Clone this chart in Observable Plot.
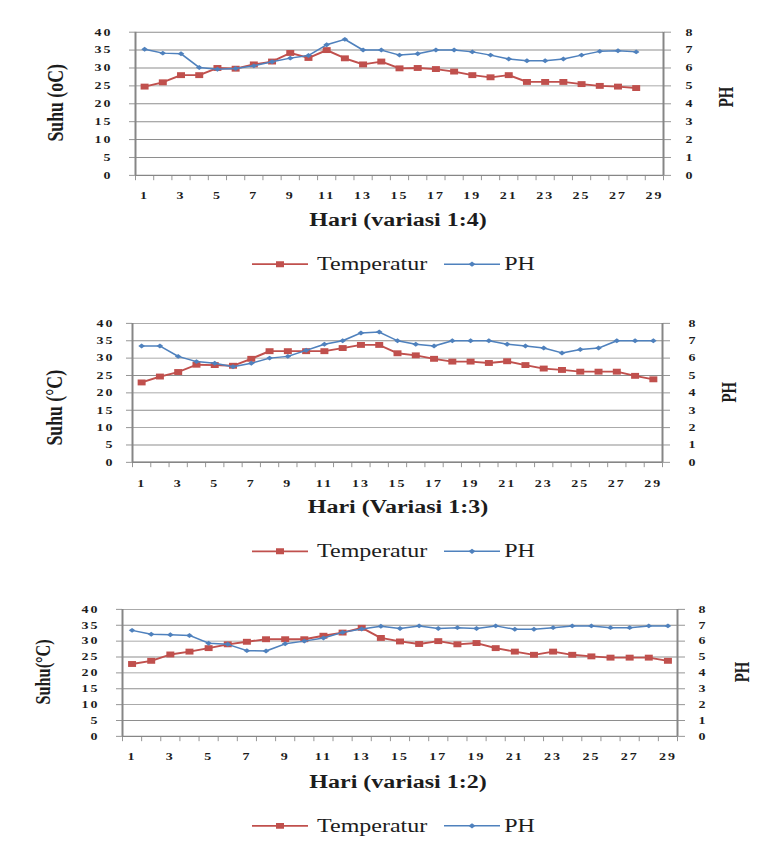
<!DOCTYPE html>
<html>
<head>
<meta charset="utf-8">
<script src="https://cdn.jsdelivr.net/npm/d3@7"></script>
<script src="https://cdn.jsdelivr.net/npm/@observablehq/plot@0.6"></script>
<style>
  html, body { margin: 0; padding: 0; background: #fff; }
  #frame { position: relative; width: 773px; height: 851px; overflow: hidden; }
  #stage { position: absolute; left: 0; top: 0; width: 773px; transform-origin: 0 0; }
  #stage svg.chart text { fill: #1c1c1c; }
  .lbl { position: absolute; font-family: "Liberation Serif", "Times New Roman", serif; color: #1c1c1c; white-space: nowrap; line-height: 1; }
  .title { font-weight: bold; font-size: 24px; transform: translate(-50%, -50%); }
  .ytitle { font-weight: bold; transform: translate(-50%, -50%) rotate(-90deg); }
  .legend { display: flex; align-items: center; font-size: 24px; transform: translateY(-50%); }
  .legend svg { display: block; }
</style>
</head>
<body>
<div id="frame"><div id="stage"></div></div>
<script>
// Daily temperature (°C) and pH of the three dilution variants.
const days = d3.range(1, 30);
const dayTicks = d3.range(1, 30, 2);
const tempTicks = d3.range(0, 41, 5);

const temp14 = [24.8, 26, 28, 28, 30, 29.8, 31, 31.8, 34.2, 32.8, 35, 32.7, 31, 31.8,
                29.9, 30, 29.7, 29, 28, 27.4, 28, 26.1, 26.1, 26.1, 25.5, 25, 24.8, 24.4];
const ph14   = [7.05, 6.83, 6.8, 6.03, 5.93, 5.97, 6.12, 6.35, 6.55, 6.7, 7.3, 7.6, 7.0, 7.0,
                6.72, 6.8, 7.0, 7.0, 6.9, 6.72, 6.5, 6.4, 6.4, 6.5, 6.72, 6.93, 6.96, 6.9];

const temp13 = [23, 24.7, 26, 28.1, 28, 27.8, 29.8, 32, 32, 32, 32, 32.9, 33.8, 33.8,
                31.4, 30.8, 29.8, 29, 29, 28.6, 29.1, 28, 27, 26.6, 26.1, 26.1, 26.1, 24.9, 23.9];
const ph13   = [6.7, 6.7, 6.1, 5.8, 5.7, 5.5, 5.7, 6.0, 6.1, 6.45, 6.8, 7.0, 7.45, 7.5,
                7.0, 6.8, 6.7, 7.0, 7.0, 7.0, 6.8, 6.7, 6.58, 6.3, 6.5, 6.58, 7.0, 7.0, 7.0];

const temp12 = [22.8, 23.8, 25.8, 26.7, 27.8, 29, 29.8, 30.6, 30.6, 30.6, 31.7, 32.7, 34.2, 31,
                29.9, 29.1, 30, 29, 29.4, 27.8, 26.7, 25.7, 26.7, 25.7, 25.2, 24.8, 24.8, 24.8, 23.8];
const ph12   = [6.68, 6.43, 6.4, 6.36, 5.87, 5.8, 5.4, 5.38, 5.83, 6.0, 6.2, 6.55, 6.77, 6.94,
                6.8, 6.96, 6.8, 6.85, 6.8, 6.96, 6.75, 6.75, 6.85, 6.96, 6.96, 6.85, 6.85, 6.96, 6.96];

const seriesNames = ["Temperatur", "PH"];
const xTitles = ["Hari (variasi 1:4)", "Hari (Variasi 1:3)", "Hari (variasi 1:2)"];
const yTitles = ["Suhu (oC)", "Suhu (°C)", "Suhu(°C)"];
const yTitleRight = "PH";

// pH (0–8) shares the temperature scale (0–40): one pH unit = 5 °C.
const PH_FACTOR = 5;

const RED = "#C0504D";
const BLUE = "#4F81BD";
const AXIS = "#868686";
const GRID = "#8e8e8e";

// The whole page is drawn flattened vertically.
const SQUISH = 0.74;
const stage = document.getElementById("stage");
stage.style.height = (851 / SQUISH) + "px";
stage.style.transform = `scaleY(${SQUISH})`;

const panels = [
  {temp: temp14, ph: ph14, top: 0, height: 280, mt: 43, mb: 43.5, ml: 135, mr: 110,
   padL: 17, padR: 15, padX: 22, xTitle: xTitles[0], titleY: 298, legendY: 357,
   yTitle: yTitles[0], yFont: 24, yX: 55, yY: 139, phX: 726, phY: 131},
  {temp: temp13, ph: ph13, top: 390, height: 280, mt: 46.5, mb: 45.7, ml: 132, mr: 111,
   padL: 12, padR: 19, padX: 23, xTitle: xTitles[1], titleY: 685, legendY: 745,
   yTitle: yTitles[1], yFont: 24, yX: 54, yY: 551, phX: 729, phY: 530},
  {temp: temp12, ph: ph12, top: 780, height: 260, mt: 43, mb: 45.4, ml: 122, mr: 96,
   padL: 17, padR: 14, padX: 22, xTitle: xTitles[2], titleY: 1057, legendY: 1116,
   yTitle: yTitles[2], yFont: 22, yX: 43, yY: 908, phX: 742, phY: 908}
];

function addLabel(text, cls, x, y, extra = {}) {
  const el = document.createElement("div");
  el.className = "lbl " + cls;
  el.textContent = text;
  el.style.left = x + "px";
  el.style.top = y + "px";
  Object.assign(el.style, extra);
  stage.append(el);
  return el;
}

function swatch(color, marker) {
  const ns = "http://www.w3.org/2000/svg";
  const svg = document.createElementNS(ns, "svg");
  svg.setAttribute("width", 56);
  svg.setAttribute("height", 20);
  const line = document.createElementNS(ns, "line");
  line.setAttribute("x1", 0); line.setAttribute("x2", 56);
  line.setAttribute("y1", 10); line.setAttribute("y2", 10);
  line.setAttribute("stroke", color);
  line.setAttribute("stroke-width", marker === "square" ? 2.5 : 2);
  svg.append(line);
  const m = document.createElementNS(ns, "path");
  m.setAttribute("d", marker === "square" ? "M24,6h8v8h-8z" : "M28,6.5l3.5,3.5l-3.5,3.5l-3.5,-3.5z");
  m.setAttribute("fill", color);
  svg.append(m);
  return svg;
}

function addLegend(y) {
  const box = document.createElement("div");
  box.className = "lbl legend";
  box.style.left = "252px";
  box.style.top = y + "px";
  const s1 = swatch(RED, "square");
  const t1 = document.createElement("span");
  t1.textContent = seriesNames[0];
  t1.style.margin = "0 17px 0 9px";
  const s2 = swatch(BLUE, "diamond");
  const t2 = document.createElement("span");
  t2.textContent = seriesNames[1];
  t2.style.marginLeft = "4px";
  box.append(s1, t1, s2, t2);
  stage.append(box);
}

for (const p of panels) {
  const rows = p.temp.map((t, i) => ({day: days[i], temp: t, ph: p.ph[i]}));
  const chart = Plot.plot({
    width: 773,
    height: p.height,
    marginTop: p.mt,
    marginBottom: p.mb,
    marginLeft: p.ml,
    marginRight: p.mr,
    x: {domain: [0.5, 29.5]},
    y: {domain: [0, 40]},
    style: {
      fontFamily: "'Liberation Serif', 'Times New Roman', serif",
      fontSize: "14px",
      fontWeight: "bold",
      letterSpacing: "2px",
      background: "transparent",
      overflow: "visible"
    },
    marks: [
      Plot.gridY({ticks: tempTicks, stroke: GRID, strokeOpacity: 1, strokeWidth: 1.3}),
      Plot.axisY({ticks: tempTicks, anchor: "left", tickSize: 6, tickPadding: p.padL,
                  color: AXIS, label: null}),
      Plot.axisY({ticks: tempTicks, anchor: "right", tickSize: 7, tickPadding: p.padR,
                  tickFormat: (d) => String(d / PH_FACTOR), color: AXIS, label: null}),
      Plot.axisX({ticks: dayTicks, tickSize: 0, tickPadding: p.padX,
                  tickFormat: (d) => String(d), color: AXIS, label: null}),
      Plot.axisX({ticks: d3.range(0.5, 30, 1), tickSize: 7, tickFormat: () => "",
                  color: AXIS, label: null}),
      Plot.ruleX([0.5, 29.5], {stroke: AXIS, strokeWidth: 2}),
      Plot.ruleY([0], {stroke: AXIS, strokeWidth: 2}),
      Plot.line(rows, {x: "day", y: "temp", stroke: RED, strokeWidth: 2.5}),
      Plot.dot(rows, {x: "day", y: "temp", symbol: "square", r: 4.5, fill: RED, stroke: "none"}),
      Plot.line(rows, {x: "day", y: (d) => d.ph * PH_FACTOR, stroke: BLUE, strokeWidth: 2}),
      Plot.dot(rows, {x: "day", y: (d) => d.ph * PH_FACTOR, symbol: "diamond2", r: 3, fill: BLUE, stroke: "none"})
    ]
  });
  chart.classList.add("chart");
  chart.style.position = "absolute";
  chart.style.left = "0px";
  chart.style.top = p.top + "px";
  stage.append(chart);

  addLabel(p.xTitle, "title", 398, p.titleY);
  addLabel(p.yTitle, "ytitle", p.yX, p.yY, {fontSize: p.yFont + "px"});
  addLabel(yTitleRight, "ytitle", p.phX, p.phY, {fontSize: "20px"});
  addLegend(p.legendY);
}
</script>
</body>
</html>
